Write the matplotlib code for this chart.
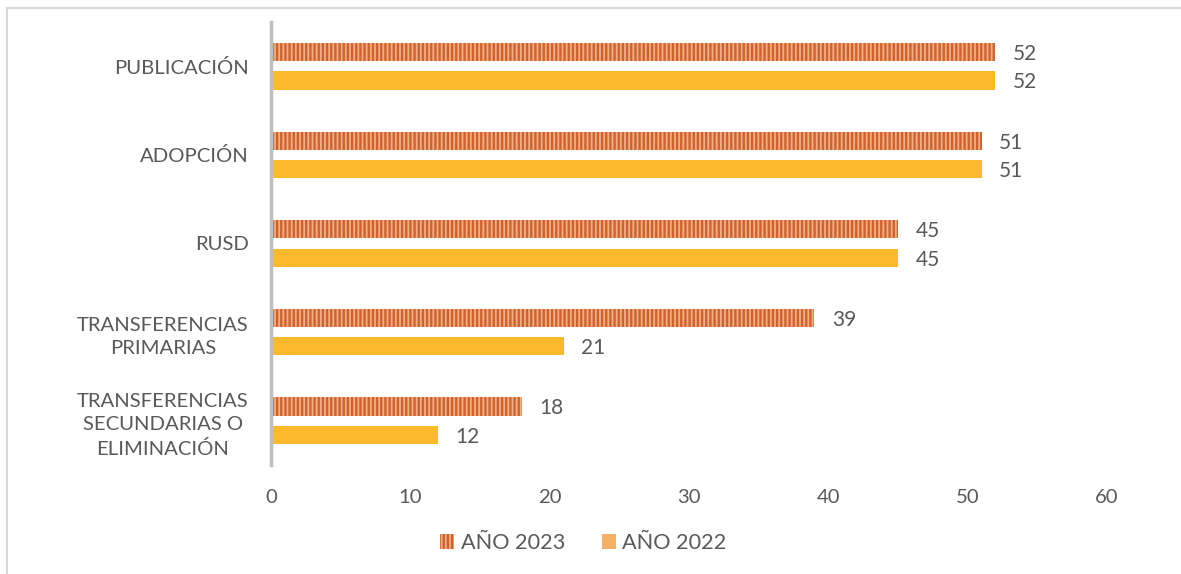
import matplotlib
matplotlib.use("Agg")
import matplotlib.pyplot as plt
from matplotlib.lines import Line2D
from matplotlib.patches import Patch
import numpy as np

plt.rcParams['font.family'] = ['Lato', 'DejaVu Sans']
plt.rcParams['hatch.linewidth'] = 1.7

categories = ["PUBLICACIÓN", "ADOPCIÓN", "RUSD", "TRANSFERENCIAS\nPRIMARIAS",
              "TRANSFERENCIAS\nSECUNDARIAS O\nELIMINACIÓN"]
values_2023 = [52, 51, 45, 39, 18]
values_2022 = [52, 51, 45, 21, 12]
series_labels = ["AÑO 2023", "AÑO 2022"]
xticks = [0, 10, 20, 30, 40, 50, 60]

text_color = "#595959"
c2023_face = "#EDB08C"
c2023_edge = "#D2622A"
c2022 = "#FBB92B"
fs = 14.6

fig = plt.figure(figsize=(11.81, 5.74), dpi=100)
ax = fig.add_axes([0.2295, 0.19, 0.9373 - 0.2295, 0.9617 - 0.19])

n = len(categories)
y = np.arange(n)
off = 0.16
h = 0.205
ax.barh(y - off, values_2023, height=h, color=c2023_face, edgecolor=c2023_edge,
        hatch="||||", linewidth=0)
ax.barh(y + off, values_2022, height=h, color=c2022, linewidth=0)

for yi, v in zip(y, values_2023):
    ax.text(v + 1.25, yi - off, str(v), va="center_baseline", ha="left", fontsize=fs + 0.4,
            color=text_color)
for yi, v in zip(y, values_2022):
    ax.text(v + 1.25, yi + off, str(v), va="center_baseline", ha="left", fontsize=fs + 0.4,
            color=text_color)

ax.set_ylim(n - 0.5, -0.5)
ax.set_xlim(0, 60)
ax.set_xticks(xticks)
ax.set_xticklabels([str(t) for t in xticks], fontsize=fs, color=text_color)
ax.set_yticks(y)
ax.set_yticklabels(categories, fontsize=fs, color=text_color)
for lab in ax.get_yticklabels():
    lab.set_multialignment("center")
    lab.set_linespacing(1.45)
ax.tick_params(axis="y", length=0, pad=16)
ax.tick_params(axis="x", length=0, pad=17)

for s in ["top", "right", "bottom"]:
    ax.spines[s].set_visible(False)
ax.spines["left"].set_color("#BFBFBF")
ax.spines["left"].set_linewidth(2.5)

handles = [Patch(facecolor=c2023_face, edgecolor=c2023_edge, hatch="||||", linewidth=0),
           Patch(facecolor="#F5B063", linewidth=0)]
fig.legend(handles, series_labels, loc="center", bbox_to_anchor=(0.494, 0.054), ncol=2,
           frameon=False, fontsize=15.6, labelcolor=text_color, handlelength=0.65,
           handleheight=0.65, columnspacing=1.7, handletextpad=0.3)

fig.add_artist(Line2D([7 / 1181, 7 / 1181], [0, 1 - 8 / 574], transform=fig.transFigure,
                      color="#D9D9D9", linewidth=1.5))
fig.add_artist(Line2D([7 / 1181, 1], [1 - 8 / 574, 1 - 8 / 574], transform=fig.transFigure,
                      color="#D9D9D9", linewidth=1.5))

fig.savefig("out.png", dpi=100)
